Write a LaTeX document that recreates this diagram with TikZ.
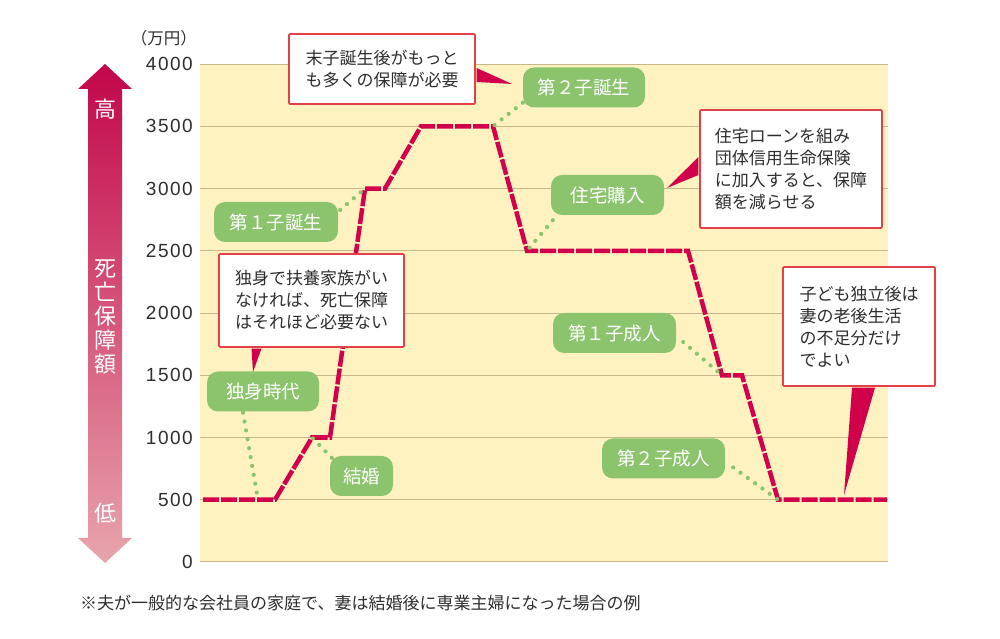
\documentclass[tikz,border=0pt]{standalone}
\usepackage{fontspec}
\setmainfont{Noto Sans CJK JP}
\newfontfamily\numfont[LetterSpace=8]{Liberation Sans}
\definecolor{bgyellow}{HTML}{FFF2C1}
\definecolor{gridtan}{HTML}{C9B78A}
\definecolor{crimson}{HTML}{D2004B}
\definecolor{boxred}{HTML}{E5404A}
\definecolor{taggreen}{HTML}{8CC46E}
\definecolor{arrtop}{HTML}{C2064A}
\definecolor{arrbot}{HTML}{E8A4AC}
\definecolor{textgray}{HTML}{2E2E2E}
\tikzset{
callout/.style={
	draw=boxred, line width=1.6pt, fill=white, rounded corners=1pt,
	align=left, text=textgray, inner sep=0pt,
	font=\fontsize{17}{22}\selectfont},
tag/.style={
	fill=taggreen, rounded corners=11pt, text=white, inner sep=0pt,
	minimum height=40pt, font=\fontsize{18.5}{20}\selectfont},
dots/.style={taggreen, line width=4.2pt, line cap=round,
	dash pattern=on 0pt off 9pt},
pointer/.style={fill=crimson},
tick/.style={anchor=east, text=textgray, inner sep=0pt,
	font=\numfont\fontsize{19}{19}\selectfont},
arrowtext/.style={text=white, inner sep=0pt, font=\fontsize{22}{24}\selectfont}
}

\begin{document}
\begin{tikzpicture}[x=1pt, y=1pt]
	\useasboundingbox (0,0) rectangle (1000,639);
	\shade[top color=arrtop, bottom color=arrbot] (105,575) -- (132,550)
		-- (122,550) -- (122,101) -- (132,101) -- (105,76) -- (78,101)
		-- (88,101) -- (88,550) -- (78,550) -- cycle;
	\node[arrowtext] (high) at (105,530) {高};
	\node[arrowtext, align=center] (amount) at (105,322) {死\\亡\\保\\障\\額};
	\node[arrowtext] (low) at (105,126) {低};
	\node[anchor=east, text=textgray, inner sep=0pt,
		font=\fontsize{16.5}{16.5}\selectfont] (unit) at (197,601) {（万円）};

	\begin{scope}[shift={(0pt,77pt)}, y=0.1245pt]
		\fill[bgyellow] (200,0) rectangle (888,4000);
		\foreach \v in {0,500,...,4000} {
			\draw[gridtan, line width=1pt] (200,\v) -- (888,\v);
			\node[tick] (t\v) at (193,\v) {\v};
		}
		\draw[crimson, line width=4.5pt, dash pattern=on 16pt off 2pt,
			preaction={draw=white, solid}]
			(203,500) -- (275,500) -- (312,1000) -- (330,1000) -- (365,3000)
			-- (385,3000) -- (421,3500) -- (493,3500) -- (527,2500)
			-- (688,2500) -- (722,1500) -- (742,1500) -- (778,500) -- (887,500);
		\coordinate (single) at (258,500);
		\coordinate (marry) at (312,1000);
		\coordinate (first) at (365,3000);
		\coordinate (second) at (493,3500);
		\coordinate (house) at (527,2500);
		\coordinate (firstadult) at (722,1500);
		\coordinate (secondadult) at (778,500);
	\end{scope}

	\node[tag, minimum width=122pt] (dainitan) at (584,551.5) {第２子誕生};
	\node[tag, minimum width=113pt] (jutaku) at (607.5,444) {住宅購入};
	\node[tag, minimum width=124pt] (daiichitan) at (276,417) {第１子誕生};
	\node[tag, minimum width=112pt] (dokushin) at (263,247.5) {独身時代};
	\node[tag, minimum width=63pt] (kekkon) at (361.5,163) {結婚};
	\node[tag, minimum width=123pt] (daiichiseijin) at (614.5,306) {第１子成人};
	\node[tag, minimum width=123pt] (dainiseijin) at (663.5,180.5) {第２子成人};

	\draw[dots] ([yshift=5pt]dainitan.south west) -- (second);
	\draw[dots] ([xshift=2pt,yshift=-5pt]jutaku.south west) -- (house);
	\draw[dots] ([xshift=2pt,yshift=12pt]daiichitan.east) -- (first);
	\draw[dots] ([xshift=-20pt,yshift=-1pt]dokushin.south) -- (single);
	\draw[dots] ([xshift=2pt,yshift=-2pt]kekkon.north west) -- (marry);
	\draw[dots] ([xshift=7pt,yshift=-9pt]daiichiseijin.east) -- (firstadult);
	\draw[dots] ([xshift=8pt,yshift=-9pt]dainiseijin.east) -- (secondadult);

	\node[callout, minimum width=186pt, minimum height=70pt] (most) at (382,570)
		{末子誕生後がもっと\\も多くの保障が必要};
	\node[callout, minimum width=182pt, minimum height=118pt] (loan) at (791,470)
		{住宅ローンを組み\\団体信用生命保険\\に加入すると、保障\\額を減らせる};
	\node[callout, minimum width=185pt, minimum height=93pt] (alone) at (311.5,338.5)
		{独身で扶養家族がい\\なければ、死亡保障\\はそれほど必要ない};
	\node[callout, minimum width=152pt, minimum height=119pt] (grown) at (859,312.5)
		{子ども独立後は\\妻の老後生活\\の不足分だけ\\でよい};

	\coordinate (mosttip) at (512,555);
	\coordinate (loantip) at (667,451);
	\coordinate (alonetip) at (253,267);
	\coordinate (growntip) at (844,144);
	\fill[pointer] ([xshift=0.8pt,yshift=1pt]most.east)
		-- ([xshift=0.8pt,yshift=-13pt]most.east) -- (mosttip) -- cycle;
	\fill[pointer] ([xshift=-0.8pt,yshift=12pt]loan.west)
		-- ([xshift=-0.8pt,yshift=-6pt]loan.west) -- (loantip) -- cycle;
	\fill[pointer] ([xshift=-60pt,yshift=-0.8pt]alone.south)
		-- ([xshift=-50pt,yshift=-0.8pt]alone.south) -- (alonetip) -- cycle;
	\fill[pointer] ([xshift=-7pt,yshift=-0.8pt]grown.south)
		-- ([xshift=16pt,yshift=-0.8pt]grown.south) -- (growntip) -- cycle;

	\node[anchor=west, text=textgray, inner sep=0pt,
		font=\fontsize{17}{17}\selectfont] (note) at (80,36)
		{※夫が一般的な会社員の家庭で、妻は結婚後に専業主婦になった場合の例};
\end{tikzpicture}
\end{document}
